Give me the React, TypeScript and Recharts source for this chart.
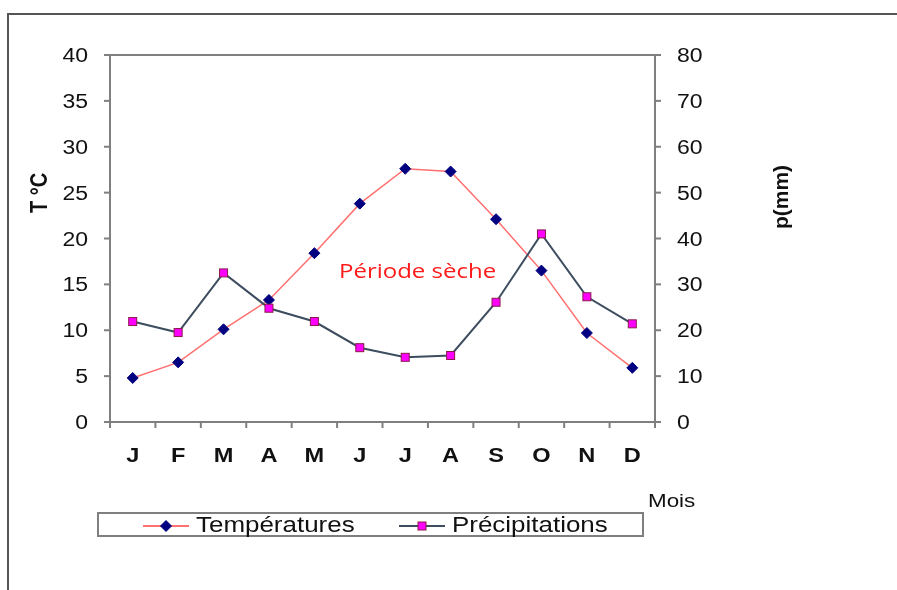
import React from "react";
import {
  LineChart,
  Line,
  XAxis,
  YAxis,
  Legend,
  ReferenceLine,
  Customized,
} from "recharts";

// Climate diagram: monthly temperature (left axis) and rainfall (right axis)
const months = ["J", "F", "M", "A", "M", "J", "J", "A", "S", "O", "N", "D"];
const temperatures = [4.8, 6.5, 10.1, 13.3, 18.4, 23.8, 27.6, 27.3, 22.1, 16.5, 9.7, 5.9];
const precipitations = [21.9, 19.5, 32.5, 24.8, 21.9, 16.2, 14.1, 14.5, 26.1, 41.0, 27.3, 21.4];
const tempTicks = [0, 5, 10, 15, 20, 25, 30, 35, 40];
const rainTicks = [0, 10, 20, 30, 40, 50, 60, 70, 80];

// month i sits at x = i; category borders at i ± 0.5
const data = months.map((m, i) => ({
  idx: i,
  month: m,
  temp: temperatures[i],
  rain: precipitations[i],
}));
const xTicks: number[] = [];
for (let i = 0; i <= months.length * 2; i++) xTicks.push(i / 2 - 0.5);

const FONT = '"Liberation Sans", Arial, sans-serif';
const STRETCH = 1.18;
const AXIS = "#7f7f7f";
const TEMP_LINE = "#FF7070";
const RAIN_LINE = "#3D4D5F";
const NAVY = "#000080";
const MAGENTA = "#FF00FF";
const TICK_SIZE = 6;
const X_TICK_MARGIN = 20;

function Diamond({ cx, cy, r = 5.5 }: any) {
  if (cx == null || cy == null) return null;
  return (
    <polygon
      points={`${cx},${cy - r} ${cx + r},${cy} ${cx},${cy + r} ${cx - r},${cy}`}
      fill={NAVY}
      stroke={NAVY}
      strokeWidth={1}
    />
  );
}

function Square({ cx, cy, r = 4 }: any) {
  if (cx == null || cy == null) return null;
  return (
    <rect
      x={cx - r}
      y={cy - r}
      width={r * 2}
      height={r * 2}
      fill={MAGENTA}
      stroke="#8B1A4A"
      strokeWidth={1}
    />
  );
}

function YTick({ x, y, payload, textAnchor }: any) {
  return (
    <g transform={`translate(${x},${y}) scale(${STRETCH},1)`}>
      <text textAnchor={textAnchor} dy="0.36em" fontSize={19.5} fontFamily={FONT} fill="#111">
        {payload.value}
      </text>
    </g>
  );
}

// half-step ticks draw the border tick marks, whole ones the month letter
function MonthTick({ x, y, payload }: any) {
  const v = payload.value;
  if (!Number.isInteger(v)) {
    const top = y - X_TICK_MARGIN - TICK_SIZE;
    return <line x1={x} x2={x} y1={top} y2={top + TICK_SIZE} stroke={AXIS} strokeWidth={2} />;
  }
  return (
    <g transform={`translate(${x},${y}) scale(${STRETCH},1)`}>
      <text textAnchor="middle" dy="0.71em" fontSize={20} fontWeight="bold" fontFamily={FONT} fill="#111">
        {months[v]}
      </text>
    </g>
  );
}

function Titles() {
  return (
    <g>
      <g transform={`translate(31,185) scale(${STRETCH},1) rotate(-90)`}>
        <text textAnchor="middle" dy="0.36em" fontSize={20} fontWeight="bold" fontFamily={FONT} fill="#111">
          T °C
        </text>
      </g>
      <g transform="translate(772,189) rotate(-90)">
        <text textAnchor="middle" dy="0.36em" fontSize={21} fontWeight="bold" fontFamily={FONT} fill="#111">
          p(mm)
        </text>
      </g>
      <g transform={`translate(640,499) scale(${STRETCH},1)`}>
        <text fontSize={19} fontFamily={FONT} fill="#111">
          Mois
        </text>
      </g>
      <g transform="translate(331,270) scale(1.2,1)">
        <text fontSize={20} fontFamily='"Open Sans", sans-serif' fill="#FF1A1A">
          Période sèche
        </text>
      </g>
    </g>
  );
}

const legendItems = [
  { name: "Températures", line: TEMP_LINE, Marker: Diamond },
  { name: "Précipitations", line: RAIN_LINE, Marker: Square },
];

function LegendBox() {
  return (
    <div
      style={{
        width: 547,
        height: 25,
        boxSizing: "border-box",
        border: `2px solid ${AXIS}`,
        background: "#fff",
      }}
    >
      <svg width={543} height={21} style={{ display: "block", overflow: "visible" }}>
        {legendItems.map((item, i) => {
          const x0 = 44 + i * 256;
          return (
            <g key={item.name}>
              <line x1={x0} x2={x0 + 46} y1={12} y2={12} stroke={item.line} strokeWidth={2} />
              <item.Marker cx={x0 + 23} cy={12} />
              <g transform={`translate(${x0 + 53},18) scale(${STRETCH},1)`}>
                <text fontSize={22} fontFamily={FONT} fill="#111">
                  {item.name}
                </text>
              </g>
            </g>
          );
        })}
      </svg>
    </div>
  );
}

export default function App() {
  return (
    <div style={{ position: "relative", width: 881, height: 574 }}>
      {/* outer frame of the pasted chart, running off the right and bottom edges */}
      <div
        style={{
          position: "fixed",
          top: 13,
          left: 7,
          right: -10,
          bottom: -10,
          borderTop: "2px solid #555",
          borderLeft: "2px solid #555",
          pointerEvents: "none",
        }}
      />
      <LineChart
        width={881}
        height={574}
        data={data}
        margin={{ top: 47, right: 174, bottom: 120, left: 42 }}
      >
        <XAxis
          dataKey="idx"
          type="number"
          domain={[-0.5, months.length - 0.5]}
          ticks={xTicks}
          allowDecimals
          height={40}
          axisLine={{ stroke: AXIS, strokeWidth: 2 }}
          tickLine={false}
          tickSize={TICK_SIZE}
          tickMargin={X_TICK_MARGIN}
          interval={0}
          tick={<MonthTick />}
        />
        <YAxis
          yAxisId="left"
          width={60}
          domain={[0, 40]}
          ticks={tempTicks}
          axisLine={{ stroke: AXIS, strokeWidth: 2 }}
          tickLine={{ stroke: AXIS, strokeWidth: 2 }}
          tickSize={TICK_SIZE}
          tickMargin={16}
          tick={<YTick />}
        />
        <YAxis
          yAxisId="right"
          orientation="right"
          width={60}
          domain={[0, 80]}
          ticks={rainTicks}
          axisLine={{ stroke: AXIS, strokeWidth: 2 }}
          tickLine={{ stroke: AXIS, strokeWidth: 2 }}
          tickSize={TICK_SIZE}
          tickMargin={16}
          tick={<YTick />}
        />
        <ReferenceLine yAxisId="left" y={40} stroke={AXIS} strokeWidth={2} />
        <Line
          yAxisId="left"
          dataKey="temp"
          name="Températures"
          stroke={TEMP_LINE}
          strokeWidth={1.5}
          isAnimationActive={false}
          dot={(p: any) => <Diamond key={`t-${p.index}`} cx={p.cx} cy={p.cy} />}
        />
        <Line
          yAxisId="right"
          dataKey="rain"
          name="Précipitations"
          stroke={RAIN_LINE}
          strokeWidth={2}
          isAnimationActive={false}
          dot={(p: any) => <Square key={`r-${p.index}`} cx={p.cx} cy={p.cy} />}
        />
        <Legend
          layout="vertical"
          align="center"
          verticalAlign="middle"
          content={() => <LegendBox />}
          wrapperStyle={{ left: 89, top: 504, width: 547, height: 25 }}
        />
        <Customized component={Titles} />
      </LineChart>
    </div>
  );
}
